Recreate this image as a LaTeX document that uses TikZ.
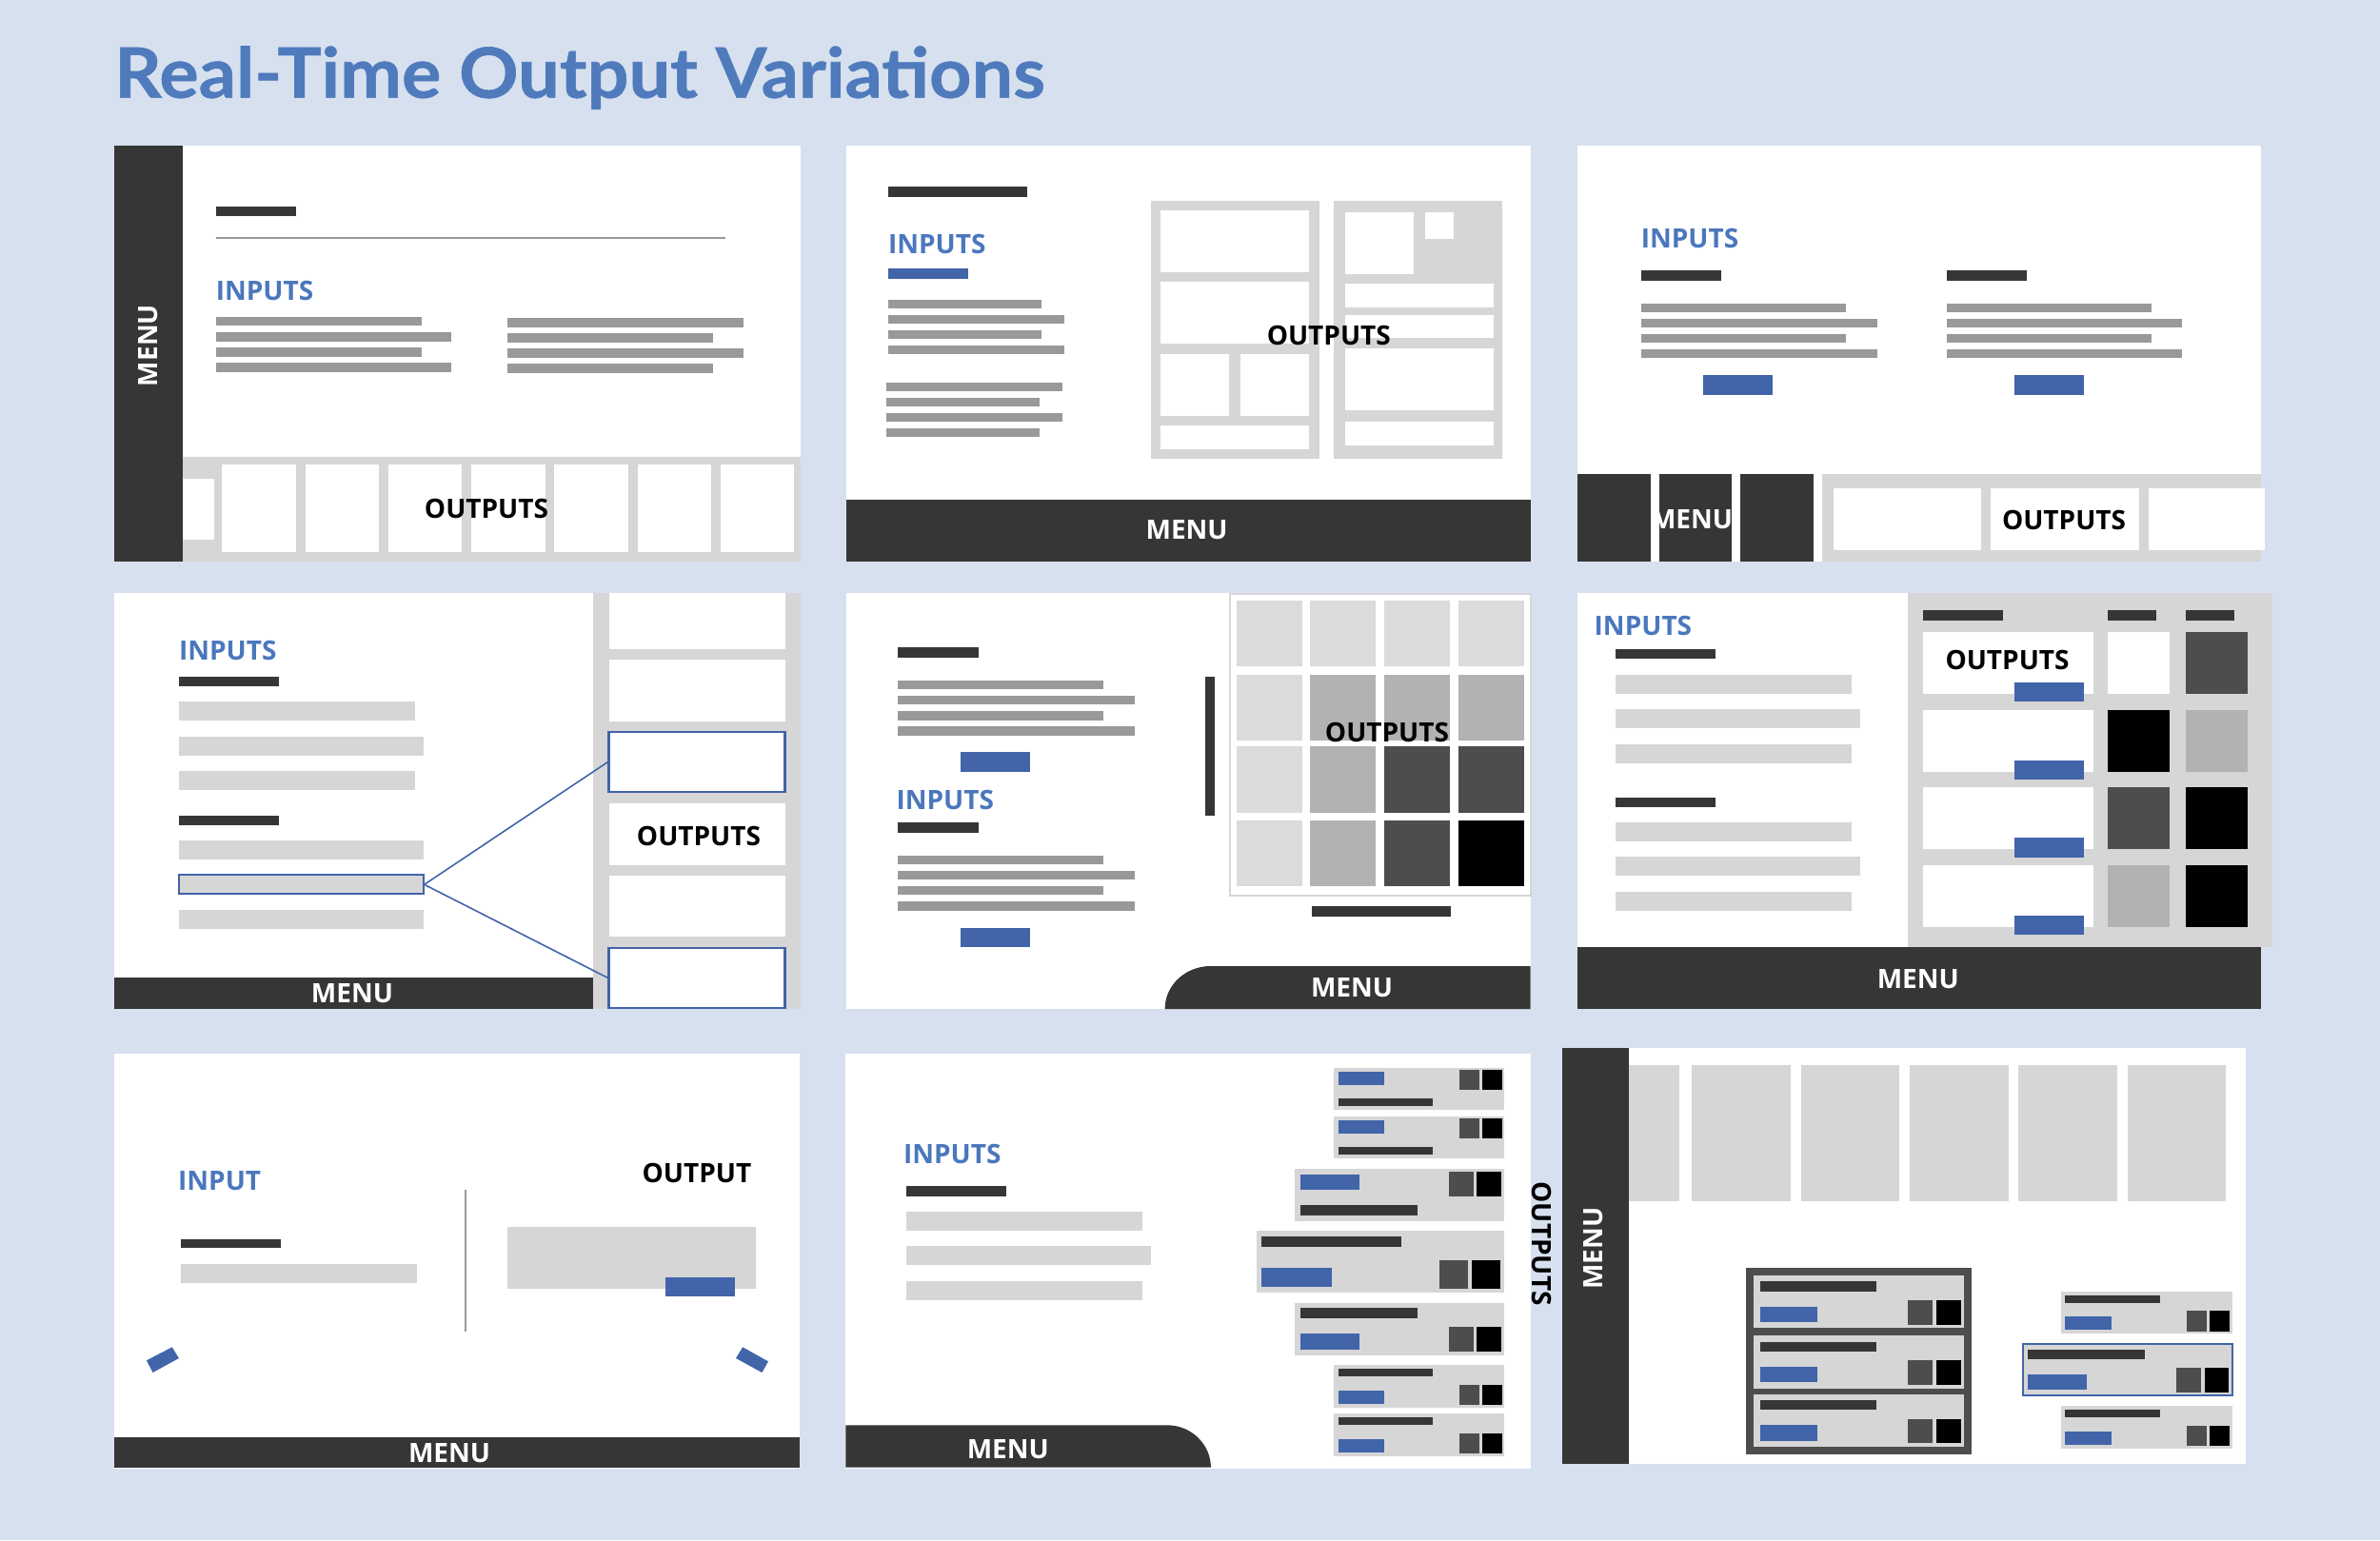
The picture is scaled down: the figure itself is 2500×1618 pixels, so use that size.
\documentclass[tikz,border=0pt]{standalone}
\usepackage{fontspec}
\setmainfont{Open Sans}
\newfontfamily\headfont{Lato}[FakeStretch=1.06, FakeBold=0.8]
\definecolor{bgc}{HTML}{D7E0EE}
\definecolor{ttl}{HTML}{4F7BBD}
\definecolor{inc}{HTML}{4A77BD}
\definecolor{btn}{HTML}{4264A9}
\definecolor{dk}{HTML}{363636}
\definecolor{mg}{HTML}{999999}
\definecolor{lg}{HTML}{D6D6D6}
\definecolor{gl}{HTML}{DCDADB}
\definecolor{gm}{HTML}{B2B2B2}
\definecolor{gd}{HTML}{4D4D4D}
% filled box from corner (x1,y1) to corner (x2,y2)
\newcommand\rbox[5]{\fill[#1] (#2,#3) rectangle (#4,#5);}
\tikzset{
  lbl/.style={inner sep=0pt, font=\fontsize{28}{30}\selectfont\bfseries},
  inlbl/.style={lbl, text=inc, anchor=west},
  outlbl/.style={lbl, text=black},
  menulbl/.style={lbl, text=white},
  rule/.style={mg, line width=2pt},
  selbox/.style={draw=btn, line width=2.2pt, inner sep=0pt},
  link/.style={btn, line width=1.6pt},
}
\begin{document}
\begin{tikzpicture}[x=1pt,y=-1pt]
\fill[bgc] (0,0) rectangle (2500,1618);
\useasboundingbox (0,0) rectangle (2500,1618);
\node[anchor=base west, inner sep=0pt, text=ttl, font=\headfont\fontsize{73}{80}\selectfont\bfseries] (title) at (120,102.7) {Real-Time Output Variations};

% ---------- layout 1: side menu, output strip at the bottom
\rbox{white}{120.4}{153.3}{840.5}{590}
\rbox{lg}{192}{480}{840.5}{590}
\rbox{white}{192}{502.7}{224.7}{567.3}
\foreach \i in {0,...,6} {\rbox{white}{233.2+87.3*\i}{488.3}{310.6+87.3*\i}{580}}
\rbox{dk}{120.4}{153.3}{192.1}{590}
\node[menulbl, rotate=90] (p1menu) at (156,363) {MENU};
\rbox{dk}{226.6}{216.7}{311}{227.3}
\draw[rule] (226.6,250) -- (762,250);
\node[inlbl] (p1in) at (226.6,305) {INPUTS};
\rbox{mg}{226.6}{332.7}{442.7}{342.3}
\rbox{mg}{226.6}{349.3}{474.3}{358.7}
\rbox{mg}{226.6}{365.3}{442.7}{375}
\rbox{mg}{226.6}{381.3}{474.3}{390.7}
\rbox{mg}{532.8}{334.3}{781}{343.7}
\rbox{mg}{532.8}{350.3}{749}{360}
\rbox{mg}{532.8}{366.3}{781}{376}
\rbox{mg}{532.8}{382.3}{749}{392}
\node[outlbl] (p1out) at (511,534) {OUTPUTS};

% ---------- layout 2: tiled outputs, bottom menu
\rbox{white}{888.5}{153.3}{1607.7}{590}
\rbox{dk}{932.9}{196}{1079.1}{207}
\node[inlbl] (p2in) at (932.9,256) {INPUTS};
\rbox{btn}{932.9}{281.7}{1017.3}{292.7}
\rbox{mg}{932.9}{314.7}{1094.2}{324}
\rbox{mg}{932.9}{330.7}{1118.3}{340}
\rbox{mg}{932.9}{346.7}{1094.2}{356.3}
\rbox{mg}{932.9}{362.7}{1118.3}{372.3}
\rbox{mg}{931}{401.7}{1116}{411.3}
\rbox{mg}{931}{417.7}{1092}{427}
\rbox{mg}{931}{433.7}{1116}{443.3}
\rbox{mg}{931}{449.7}{1092}{459.3}
\rbox{lg}{1208.9}{210.7}{1386.4}{481.7}
\rbox{white}{1219.3}{220.7}{1374.6}{285.7}
\rbox{white}{1219.3}{296}{1374.6}{361}
\rbox{white}{1219.3}{371.7}{1290.6}{436.7}
\rbox{white}{1302.8}{371.7}{1374.6}{436.7}
\rbox{white}{1219.3}{447.3}{1374.6}{471.7}
\rbox{lg}{1401}{210.7}{1578.4}{481.7}
\rbox{white}{1413.2}{222.7}{1485}{287.7}
\rbox{white}{1496.8}{222.7}{1527.4}{250.7}
\rbox{white}{1413.2}{298}{1568.5}{322.7}
\rbox{white}{1413.2}{330.7}{1568.5}{355.3}
\rbox{white}{1413.2}{366}{1568.5}{430.7}
\rbox{white}{1413.2}{443.3}{1568.5}{467.7}
\node[outlbl] (p2out) at (1395.8,352.7) {OUTPUTS};
\rbox{dk}{888.5}{525}{1607.7}{590}
\node[menulbl] (p2menu) at (1246.6,557) {MENU};

% ---------- layout 3: two input columns, split bottom bar
\rbox{white}{1656.6}{153.3}{2375.3}{590}
\node[inlbl] (p3in) at (1723.6,250) {INPUTS};
\rbox{dk}{1723.6}{284}{1808.1}{295}
\rbox{dk}{2044.5}{284}{2129}{295}
\foreach \a/\b/\s/\l in {319/328.3/1939.3/2260.2, 335/344/1971.8/2292.3, 351/360.3/1939.3/2260.2, 367/376.3/1971.8/2292.3}
  {\rbox{mg}{1723.6}{\a}{\s}{\b}\rbox{mg}{2044.5}{\a}{\l}{\b}}
\rbox{btn}{1789.2}{394.3}{1862.4}{414.7}
\rbox{btn}{2115.8}{394.3}{2189.4}{414.7}
\rbox{dk}{1656.6}{498.3}{1734}{590}
\rbox{dk}{1742.5}{498.3}{1819.4}{590}
\rbox{dk}{1827.9}{498.3}{1905.3}{590}
\rbox{lg}{1913.8}{498.3}{2375.3}{590}
\rbox{white}{1926}{512.7}{2080.9}{577.7}
\rbox{white}{2091.3}{512.7}{2246.5}{577.7}
\rbox{white}{2256.9}{512.7}{2379}{577.7}
\node[menulbl] (p3menu) at (1777,546) {MENU};
\node[outlbl] (p3out) at (2168,546) {OUTPUTS};

% ---------- layout 4: output column with linked selection
\rbox{white}{120.4}{623.3}{840.5}{1060}
\rbox{lg}{623}{623.3}{840.5}{1060}
\rbox{white}{639.5}{623.3}{824.5}{681.7}
\rbox{white}{639.5}{692.7}{824.5}{757.7}
\node[selbox, fill=white, minimum width=185pt, minimum height=63.3pt] (p4oa) at (732,800.6) {};
\rbox{white}{639.5}{844}{824.5}{908.7}
\node[outlbl] (p4out) at (734,878) {OUTPUTS};
\rbox{white}{639.5}{919.7}{824.5}{984.3}
\node[selbox, fill=white, minimum width=185pt, minimum height=63.3pt] (p4ob) at (732,1027.3) {};
\node[inlbl] (p4in) at (187.9,683.7) {INPUTS};
\rbox{dk}{187.9}{711}{293.1}{721}
\rbox{dk}{187.9}{857}{293.1}{867}
\rbox{lg}{187.9}{737.3}{435.6}{757}
\rbox{lg}{187.9}{773.7}{444.6}{793.7}
\rbox{lg}{187.9}{810}{435.6}{830}
\rbox{lg}{187.9}{883.3}{444.6}{903}
\node[selbox, fill=lg, minimum width=256.7pt, minimum height=20pt] (p4sel) at (316.25,929.3) {};
\rbox{lg}{187.9}{956}{444.6}{976}
\draw[link] (p4sel.east) -- (p4oa.west);
\draw[link] (p4sel.east) -- (p4ob.west);
\rbox{dk}{120.4}{1027.3}{623}{1060}
\node[menulbl] (p4menu) at (370,1044) {MENU};

% ---------- layout 5: heat-map grid, menu tab
\rbox{white}{888.5}{623.3}{1607.7}{1060}
\draw[lg, line width=2pt, fill=white] (1291.5,624) rectangle (1607.7,941);
\foreach \ya/\yb/\ca/\cb/\cc/\cd in {631.3/700.3/gl/gl/gl/gl, 709/778.3/gl/gm/gm/gm, 784.3/853.7/gl/gm/gd/gd, 862.3/931.3/gl/gm/gd/black}
{
  \rbox{\ca}{1299}{\ya}{1368}{\yb}
  \rbox{\cb}{1376.4}{\ya}{1445.3}{\yb}
  \rbox{\cc}{1453.8}{\ya}{1523.2}{\yb}
  \rbox{\cd}{1531.7}{\ya}{1601}{\yb}
}
\node[outlbl] (p5out) at (1457,769) {OUTPUTS};
\rbox{dk}{1266}{711}{1276.4}{856.7}
\rbox{dk}{1378.3}{951.7}{1524.1}{962.7}
\rbox{dk}{943.2}{680}{1028.2}{691}
\rbox{mg}{943.2}{715}{1159.4}{724.3}
\rbox{mg}{943.2}{731}{1191.5}{740.3}
\rbox{mg}{943.2}{747}{1159.4}{756.7}
\rbox{mg}{943.2}{763.3}{1191.5}{772.7}
\rbox{btn}{1008.8}{790.3}{1082.4}{810.7}
\node[inlbl] (p5in) at (941.3,840) {INPUTS};
\rbox{dk}{943.2}{864}{1028.2}{875}
\rbox{mg}{943.2}{899}{1159.4}{908.3}
\rbox{mg}{943.2}{915}{1191.5}{924.3}
\rbox{mg}{943.2}{931}{1159.4}{940.3}
\rbox{mg}{943.2}{947}{1191.5}{956.7}
\rbox{btn}{1008.8}{974.7}{1082.4}{994.7}
\fill[dk] (1223.6,1060) -- (1223.6,1060) .. controls (1223.6,1035.2) and (1245.1,1015) .. (1271.6,1015) -- (1607.7,1015) -- (1607.7,1060) -- cycle;
\node[menulbl] (p5menu) at (1420,1038) {MENU};

% ---------- layout 6: output table with swatches
\rbox{white}{1656.6}{623.3}{2375.3}{1060}
\rbox{lg}{2004}{623.3}{2387}{995}
\node[inlbl] (p6in) at (1674.5,657.3) {INPUTS};
\rbox{dk}{1697.2}{682.3}{1802.4}{692.3}
\rbox{dk}{1697.2}{837.7}{1802.4}{847.7}
\rbox{lg}{1697.2}{708.7}{1945}{728.7}
\rbox{lg}{1697.2}{745.3}{1954}{765.3}
\rbox{lg}{1697.2}{781.7}{1945}{801.7}
\rbox{lg}{1697.2}{864}{1945}{884}
\rbox{lg}{1697.2}{900.3}{1954}{920.3}
\rbox{lg}{1697.2}{936.7}{1945}{956.7}
\rbox{dk}{2020}{641.3}{2104}{652.3}
\rbox{dk}{2214}{641.3}{2265.4}{652.3}
\rbox{dk}{2295.5}{641.3}{2347}{652.3}
\foreach \ya/\yb/\ca/\cb in {664/729/white/gd, 745.7/810.7/black/gm, 827.3/892.3/gd/black, 909/974/gm/black}
{
  \rbox{white}{2020}{\ya}{2199.3}{\yb}
  \rbox{btn}{2115.8}{\yb-12}{2189.4}{\yb+8.3}
  \rbox{\ca}{2214}{\ya}{2279}{\yb}
  \rbox{\cb}{2295.5}{\ya}{2361.2}{\yb}
}
\node[outlbl] (p6out) at (2108.5,693.3) {OUTPUTS};
\rbox{dk}{1656.6}{995}{2375.3}{1060}
\node[menulbl] (p6menu) at (2014.8,1028.3) {MENU};

% ---------- layout 7: single input / single output
\rbox{white}{120.4}{1107.3}{839.6}{1543.3}
\node[inlbl] (p7in) at (187,1240.5) {INPUT};
\node[outlbl, anchor=east] (p7out) at (789.5,1232.8) {OUTPUT};
\draw[rule] (489,1250.3) -- (489,1399);
\rbox{dk}{190.2}{1301.7}{295}{1311.3}
\rbox{lg}{190.2}{1328}{438}{1348}
\rbox{lg}{532.8}{1289}{794.3}{1354}
\rbox{btn}{698.5}{1342}{772}{1362.3}
\fill[btn] (153.9,1429.3) -- (180.8,1415.3) -- (187.9,1427) -- (160.5,1442) -- cycle;
\fill[btn] (773,1427) -- (780.1,1415.3) -- (807,1430.3) -- (800.4,1442) -- cycle;
\rbox{dk}{120.4}{1510}{839.6}{1541.7}
\node[menulbl] (p7menu) at (472,1526.7) {MENU};

% ---------- layout 8: fanned output cards
\rbox{white}{888.3}{1107.3}{1607.8}{1543.3}
\node[inlbl] (p8in) at (948.8,1212.3) {INPUTS};
\rbox{dk}{952.2}{1246}{1056.8}{1256.7}
\rbox{lg}{952.2}{1272.7}{1200.2}{1292.7}
\rbox{lg}{952.2}{1309.3}{1208.5}{1329.3}
\rbox{lg}{952.2}{1345.7}{1200.2}{1365.7}
\fill[dk] (888.3,1541.7) -- (888.3,1497.3) -- (1226,1497.3) .. controls (1251.3,1497.3) and (1271.9,1517.4) .. (1271.9,1541.7) -- cycle;
\node[menulbl] (p8menu) at (1058.8,1523) {MENU};
\node[outlbl, rotate=-90] (p8out) at (1619,1306.7) {OUTPUTS};
\foreach \t in {1121.7,1172.7}
{
  \rbox{lg}{1401}{\t}{1580.3}{\t+44.6}
  \rbox{btn}{1405.5}{\t+4}{1454.1}{\t+18}
  \rbox{gd}{1533.2}{\t+2.6}{1554.3}{\t+23.3}
  \rbox{black}{1556.7}{\t+2.6}{1577.9}{\t+23.3}
  \rbox{dk}{1405.5}{\t+32.6}{1505.2}{\t+40.6}
}
\foreach \t in {1434.3,1485.3}
{
  \rbox{lg}{1401}{\t}{1580.3}{\t+44.6}
  \rbox{dk}{1405.5}{\t+4}{1505.2}{\t+12}
  \rbox{btn}{1405.5}{\t+26.4}{1454.1}{\t+40.7}
  \rbox{gd}{1533.2}{\t+20.7}{1554.3}{\t+41.7}
  \rbox{black}{1556.7}{\t+20.7}{1577.9}{\t+41.7}
}
\rbox{lg}{1360.3}{1227.7}{1580.3}{1282.7}
\rbox{btn}{1366.2}{1233.7}{1427.6}{1250}
\rbox{gd}{1522.4}{1231}{1547.9}{1257}
\rbox{black}{1551.3}{1231}{1577.4}{1257}
\rbox{dk}{1366.2}{1266.3}{1489}{1276.7}
\rbox{lg}{1319.5}{1293.3}{1580.3}{1358.3}
\rbox{dk}{1325}{1299.3}{1471.8}{1310.3}
\rbox{btn}{1325}{1331.7}{1399.1}{1352.3}
\rbox{gd}{1511.5}{1323.7}{1542}{1354.3}
\rbox{black}{1545.9}{1323.7}{1576.4}{1354.3}
\rbox{lg}{1360.3}{1369}{1580.3}{1423.7}
\rbox{dk}{1366.2}{1374.3}{1489}{1385}
\rbox{btn}{1366.2}{1401}{1427.6}{1417.7}
\rbox{gd}{1522.4}{1394.3}{1547.9}{1420.3}
\rbox{black}{1551.3}{1394.3}{1577.4}{1420.3}

% ---------- layout 9: side menu, stacked and floating cards
\rbox{white}{1640.5}{1101}{2359.4}{1537.7}
\rbox{lg}{1711.3}{1119.3}{1764.4}{1262.3}
\foreach \xa/\xb in {1776.8/1881.1, 1891.6/1995.4, 2006/2109.7, 2120.3/2224, 2234.6/2338.3}
  {\rbox{lg}{\xa}{1119.3}{\xb}{1262.3}}
\rbox{dk}{1640.5}{1101}{1711.3}{1537.7}
\node[menulbl, rotate=90] (p9menu) at (1674,1311.7) {MENU};
\rbox{gd}{1834.2}{1331.7}{2071}{1528}
\foreach \t in {1340,1403.3,1464.7}
{
  \rbox{lg}{1841.9}{\t}{2062.9}{\t+55.3}
  \rbox{dk}{1848.6}{\t+6.2}{1971}{\t+16.7}
  \rbox{btn}{1848.6}{\t+32.7}{1909.3}{\t+49}
  \rbox{gd}{2004}{\t+26}{2029.9}{\t+51.7}
  \rbox{black}{2034.2}{\t+26}{2059.5}{\t+51.7}
}
\foreach \t in {1356.7,1477.3}
{
  \rbox{lg}{2165.2}{\t}{2344.6}{\t+44.6}
  \rbox{dk}{2169}{\t+4}{2269}{\t+12}
  \rbox{btn}{2169}{\t+26.3}{2217.8}{\t+40.6}
  \rbox{gd}{2296.8}{\t+20.6}{2317.8}{\t+42}
  \rbox{black}{2320.7}{\t+20.6}{2341.7}{\t+42}
}
\draw[btn, line width=2.2pt, fill=lg] (2124.6,1412) rectangle (2344.6,1466);
\rbox{dk}{2129.8}{1418}{2252.7}{1428}
\rbox{btn}{2129.8}{1444}{2191.5}{1460}
\rbox{gd}{2286.3}{1437.3}{2312}{1463.3}
\rbox{black}{2315.9}{1437.3}{2341.2}{1463.3}
\end{tikzpicture}
\end{document}
